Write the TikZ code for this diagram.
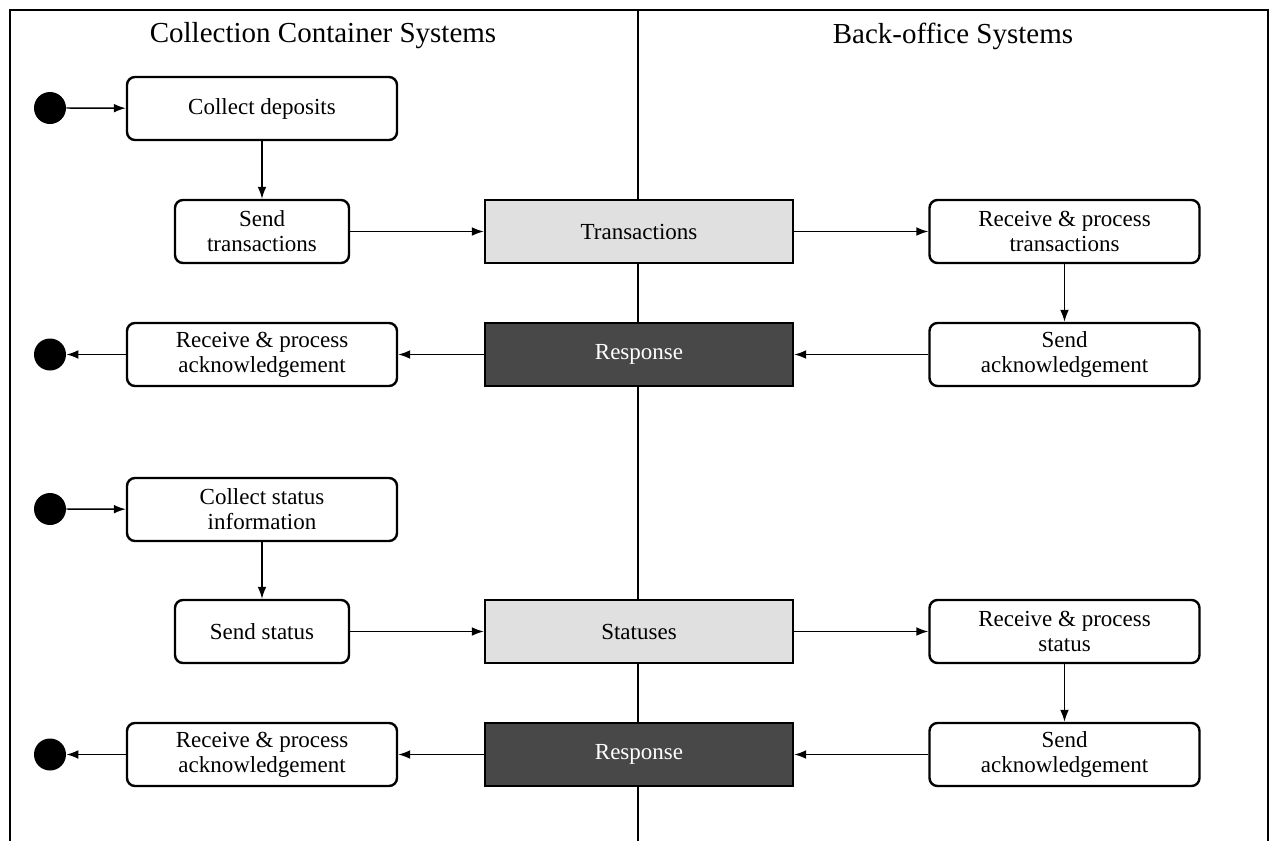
\documentclass[tikz,border=0pt]{standalone}
\usepackage{fontspec}
\setmainfont{Liberation Serif}
\usetikzlibrary{arrows.meta}
\definecolor{datagray}{HTML}{E0E0E0}
\definecolor{respgray}{HTML}{484848}

\begin{document}
\begin{tikzpicture}[x=0.5pt,y=-0.5pt,
  every node/.style={font=\fontsize{11.5}{12.5}\selectfont,align=center,inner sep=0pt},
  act/.style={rectangle,draw,line width=1.2pt,rounded corners=4pt,minimum width=135pt,minimum height=31.5pt},
  small/.style={act,minimum width=87pt},
  data/.style={rectangle,draw,line width=1.2pt,fill=datagray,minimum width=154pt,minimum height=31.5pt},
  resp/.style={data,fill=respgray,text=white},
  dot/.style={circle,fill=black,minimum size=16pt},
  flow/.style={line width=0.7pt,-{Latex[length=6pt,width=4.4pt]}}]
\useasboundingbox (0,0) rectangle (1275,841);

% swimlanes
\draw[line width=1.3pt] (10,841) -- (10,10) -- (1268,10) -- (1268,841);
\draw[line width=1.1pt] (638,10) -- (638,841);
\node[font=\fontsize{14.5}{16}\selectfont] (ccs) at (323,36) {Collection Container Systems};
\node[font=\fontsize{14.5}{16}\selectfont] (bos) at (953,36) {Back-office Systems};

% transactions
\node [dot] (start1) at (50,108) {};
\node [act] (collect) at (262,108.5) {Collect deposits};
\node [small] (sendtr) at (262,231.5) {Send\\transactions};
\node [data] (trans) at (639,231.5) {Transactions};
\node [act] (recvtr) at (1064.5,231.5) {Receive \& process\\transactions};
\node [act] (sendack1) at (1064.5,354.5) {Send\\acknowledgement};
\node [resp] (resp1) at (639,354.5) {Response};
\node [act] (recvack1) at (262,354.5) {Receive \& process\\acknowledgement};
\node [dot] (end1) at (50,354.5) {};

\draw[flow] (start1) -- (collect);
\draw[flow] (collect) -- (sendtr);
\draw[flow] (sendtr) -- (trans);
\draw[flow] (trans) -- (recvtr);
\draw[flow] (recvtr) -- (sendack1);
\draw[flow] (sendack1) -- (resp1);
\draw[flow] (resp1) -- (recvack1);
\draw[flow] (recvack1) -- (end1);

% statuses
\node [dot] (start2) at (50,509) {};
\node [act] (collst) at (262,509.5) {Collect status\\information};
\node [small] (sendst) at (262,631.5) {Send status};
\node [data] (stat) at (639,631.5) {Statuses};
\node [act] (recvst) at (1064.5,631.5) {Receive \& process\\status};
\node [act] (sendack2) at (1064.5,754.5) {Send\\acknowledgement};
\node [resp] (resp2) at (639,754.5) {Response};
\node [act] (recvack2) at (262,754.5) {Receive \& process\\acknowledgement};
\node [dot] (end2) at (50,754.5) {};

\draw[flow] (start2) -- (collst);
\draw[flow] (collst) -- (sendst);
\draw[flow] (sendst) -- (stat);
\draw[flow] (stat) -- (recvst);
\draw[flow] (recvst) -- (sendack2);
\draw[flow] (sendack2) -- (resp2);
\draw[flow] (resp2) -- (recvack2);
\draw[flow] (recvack2) -- (end2);
\end{tikzpicture}
\end{document}
